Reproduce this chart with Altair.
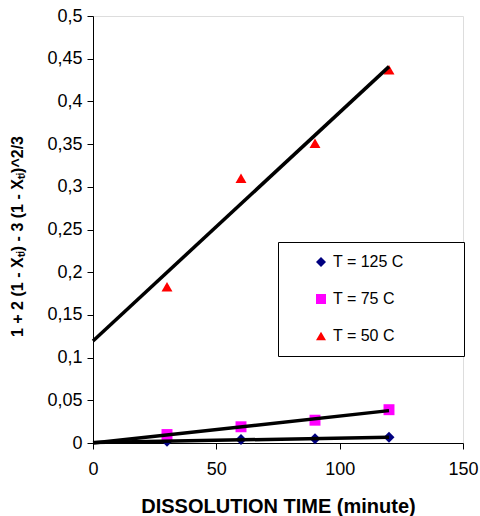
import altair as alt
import pandas as pd

times = [30, 60, 90, 120]
series_names = ["T = 125 C", "T = 75 C", "T = 50 C"]
t125 = [0.002, 0.004, 0.005, 0.0068]
t75 = [0.0099, 0.019, 0.0267, 0.039]
t50 = [0.183, 0.31, 0.351, 0.437]
colors = ["#000080", "#FF00FF", "#FF0000"]
shapes = ["diamond", "square", "triangle-up"]
y_ticks = [0, 0.05, 0.1, 0.15, 0.2, 0.25, 0.3, 0.35, 0.4, 0.45, 0.5]
x_ticks = [0, 50, 100, 150]

rows = []
for name, vals in zip(series_names, [t125, t75, t50]):
    for t, v in zip(times, vals):
        rows.append({"time": t, "value": v, "series": name})
df = pd.DataFrame(rows)

FONT = "Liberation Sans"
PAD = "\u2800" * 4

x_enc = alt.X(
    "time:Q",
    scale=alt.Scale(domain=[0, 150], nice=False),
    axis=alt.Axis(
        values=x_ticks, title="DISSOLUTION TIME  (minute)", grid=False,
        domainColor="black", tickColor="black", tickSize=6, labelFlush=False,
        labelFont=FONT, labelFontSize=18, labelColor="black", labelPadding=11,
        titleFont=FONT, titleFontSize=20, titleFontWeight="bold", titleColor="black",
        titlePadding=18,
    ),
)
y_enc = alt.Y(
    "value:Q",
    scale=alt.Scale(domain=[0, 0.5], nice=False),
    axis=alt.Axis(
        values=y_ticks, title="1 + 2 (1 - Xₜᵢ) - 3 (1 - Xₜᵢ)^2/3", grid=False,
        labelExpr="replace(format(datum.value, '.2~f'), '.', ',')",
        domainColor="black", tickColor="black", tickSize=6, labelFlush=False,
        labelFont=FONT, labelFontSize=18, labelColor="black", labelPadding=5,
        titleFont=FONT, titleFontSize=16, titleFontWeight="bold", titleColor="black",
        titleX=-68, titleY=220,
    ),
)

base = alt.Chart(df)

legend = alt.Legend(
    title=None,
    orient="none", legendX=185, legendY=226,
    padding=12, rowPadding=21, symbolOffset=23, labelOffset=4,
    symbolSize=100, symbolOpacity=1,
    labelFont=FONT, labelFontSize=16, labelColor="black",
    labelExpr="datum.label + '" + PAD + "'",
    strokeColor="black", fillColor="white",
)

points = base.mark_point(filled=True, opacity=1, size=120).encode(
    x=x_enc,
    y=y_enc,
    color=alt.Color("series:N", scale=alt.Scale(domain=series_names, range=colors), legend=legend),
    shape=alt.Shape("series:N", scale=alt.Scale(domain=series_names, range=shapes), legend=legend),
)

lines = base.transform_regression(
    "time", "value", groupby=["series"], extent=[0, 120]
).mark_line(color="black", strokeWidth=3.5).encode(
    x="time:Q", y="value:Q", detail="series:N"
)

chart = alt.layer(points, lines).properties(
    width=370, height=427,
    padding={"left": 93, "top": 16, "right": 17, "bottom": 73},
    autosize=alt.AutoSizeParams(type="none"),
).configure_view(stroke="#808080", strokeWidth=2).configure(background="white")

chart.save("out.html", embed_options={"renderer": "svg", "actions": False})
